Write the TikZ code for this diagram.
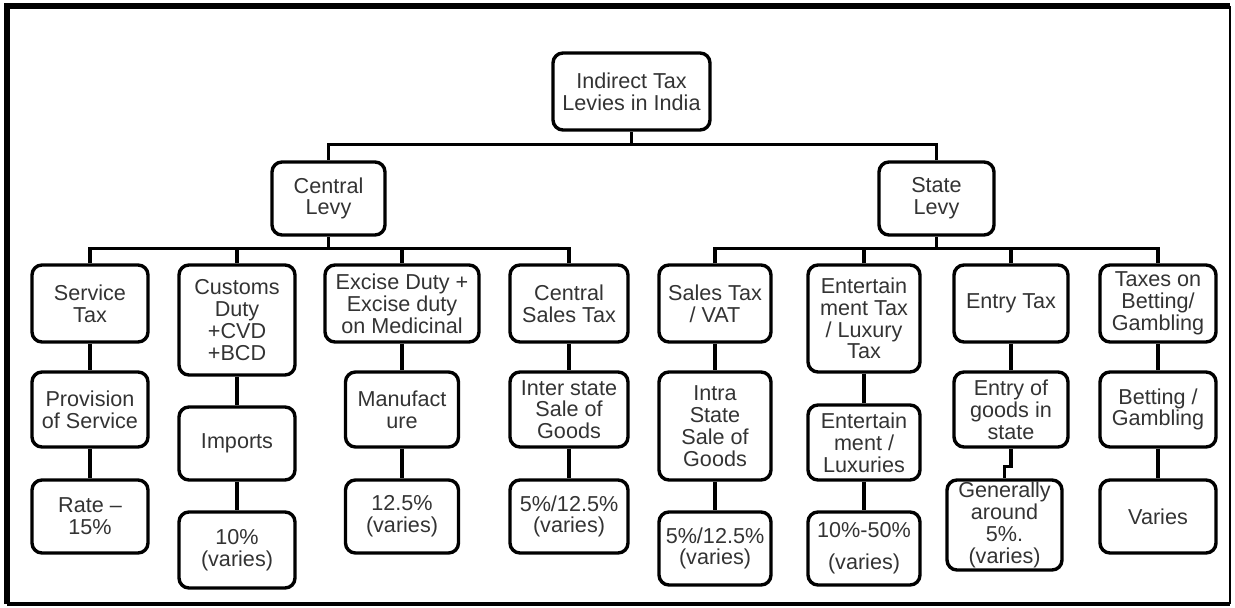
\documentclass[tikz,border=0pt]{standalone}
\usepackage{fontspec}
\setmainfont{Liberation Sans}
\usetikzlibrary{calc}

\begin{document}
\begin{tikzpicture}[x=0.5pt,y=-0.5pt,
  box/.style={draw,line width=1.7pt,rounded corners=5pt,align=center,inner sep=0pt,
    text=black!80,font=\fontsize{10.8}{10.9}\selectfont,minimum width=58pt,minimum height=38.5pt},
  link/.style={line width=1.7pt}]
\useasboundingbox (0,0) rectangle (1235,608);
% frame
\draw[line width=2.6pt] (7,604) -- (7,6) -- (1230,6);
\draw[line width=1pt] (1230,6) -- (1230,604);
\draw[line width=2pt] (7,604) -- (1230,604);
% top
\node[box,minimum width=78.5pt] (root) at (631.5,91.5) {Indirect Tax\\Levies in India};
\node[box,minimum width=56.5pt,minimum height=36.5pt] (central) at (328.5,198.5) {Central\\Levy};
\node[box,minimum width=57.5pt,minimum height=36.5pt] (state) at (936.5,198.5) {State\\Levy};
% central taxes
\node[box] (svc) at (90,303.5) {Service\\Tax};
\node[box,minimum height=55pt] (cus) at (237,320) {Customs\\Duty\\+CVD\\+BCD};
\node[box,minimum width=77pt] (exc) at (402,303.5) {Excise Duty +\\Excise duty\\on Medicinal};
\node[box,minimum width=59pt] (cst) at (569,303.5) {Central\\Sales Tax};
% state taxes
\node[box,minimum width=56pt] (sal) at (715,303.5) {Sales Tax\\/ VAT};
\node[box,minimum width=56pt,minimum height=53.5pt] (ent) at (864,318.5) {Entertain\\ment Tax\\/ Luxury\\Tax};
\node[box,minimum width=57pt] (ety) at (1011,303.5) {Entry Tax};
\node[box] (bet) at (1158,303.5) {Taxes on\\Betting/\\Gambling};
% base
\node[box,minimum height=37.5pt] (b-svc) at (90,409.5) {Provision\\of Service};
\node[box,minimum height=36.5pt] (b-cus) at (237,443.5) {Imports};
\node[box,minimum width=56.5pt,minimum height=37.5pt] (b-exc) at (402,409.5) {Manufact\\ure};
\node[box,minimum width=59pt,minimum height=37.5pt] (b-cst) at (569,409.5) {Inter state\\Sale of\\Goods};
\node[box,minimum width=56pt,minimum height=54pt] (b-sal) at (715,426) {Intra\\State\\Sale of\\Goods};
\node[box,minimum width=56pt,minimum height=37.5pt] (b-ent) at (864,442.5) {Entertain\\ment /\\Luxuries};
\node[box,minimum width=57pt,minimum height=37.5pt] (b-ety) at (1011,409.5) {Entry of\\goods in\\state};
\node[box,minimum height=37.5pt] (b-bet) at (1158,409.5) {Betting /\\Gambling};
% rates
\node[box,minimum height=36.5pt] (r-svc) at (90,516.5) {Rate --\\15\%};
\node[box,minimum height=38pt] (r-cus) at (237,550) {10\%\\(varies)};
\node[box,minimum width=56.5pt,minimum height=36.5pt] (r-exc) at (402,516.5) {12.5\%\\(varies)};
\node[box,minimum width=59pt,minimum height=36.5pt] (r-cst) at (569,516.5) {5\%/12.5\%\\(varies)};
\node[box,minimum width=56pt,minimum height=36.5pt] (r-sal) at (715,548.5) {5\%/12.5\%\\(varies)};
\node[box,minimum width=56pt,minimum height=36.5pt] (r-ent) at (864,548.5) {10\%-50\%\\[5pt](varies)};
\node[box,minimum width=57.5pt,minimum height=45pt] (r-ety) at (1004.5,525) {Generally\\around\\5\%.\\(varies)};
\node[box,minimum height=36.5pt] (r-bet) at (1158,516.5) {Varies};
% links
\draw[link] (central.north) -- ++(0,-16) -| (root.south);
\draw[link] (state.north) -- ++(0,-16) -| (root.south);
\foreach \n in {svc,cus,exc,cst}
  \draw[link] (\n.north) -- ++(0,-15) -| (central.south);
\foreach \n in {sal,ent,ety,bet}
  \draw[link] (\n.north) -- ++(0,-15) -| (state.south);
\foreach \n in {svc,cus,exc,cst,sal,ent,ety,bet}
  \draw[link] (\n.south) -- (b-\n.north);
\foreach \n in {svc,cus,exc,cst,sal,ent,bet}
  \draw[link] (b-\n.south) -- (r-\n.north);
\draw[link] (b-ety.south) -- ++(0,18) -| (r-ety.north);
\end{tikzpicture}
\end{document}
